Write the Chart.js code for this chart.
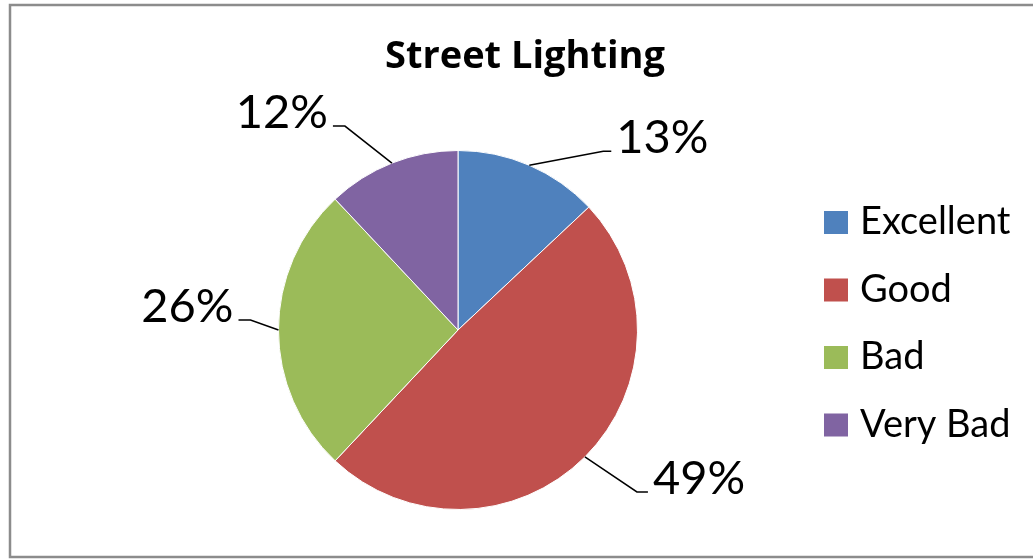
<!DOCTYPE html>
<html>
<head>
<meta charset="utf-8">
<script src="https://cdn.jsdelivr.net/npm/chart.js@4.4.1/dist/chart.umd.min.js"></script>
<style>
  html, body { margin: 0; padding: 0; background: #fff; }
  #wrap { position: relative; width: 1033px; height: 559px; }
</style>
</head>
<body>
<div id="wrap"><canvas id="c"></canvas></div>
<script>
  // Daten
  var categories = ['Excellent', 'Good', 'Bad', 'Very Bad'];
  var values = [13, 49, 26, 12];
  var colors = ['#4F81BD', '#C0504D', '#9BBB59', '#8064A2'];
  var titleText = 'Street Lighting';

  // Knick der Führungslinie relativ zum Randpunkt (px), Länge des waagrechten Stücks
  var leaderKnee = [[74, -14], [52, 35], [-28, -10], [-47, -37]];
  var leaderFlat = [8, 11, -12, -12];

  var FONT = 'Lato, "Open Sans", sans-serif';

  var frame = {
    id: 'frame',
    beforeDraw: function (chart) {
      var ctx = chart.ctx;
      ctx.save();
      ctx.fillStyle = '#fff';
      ctx.fillRect(0, 0, chart.width, chart.height);
      ctx.strokeStyle = '#8c8c8c';
      ctx.lineWidth = 2.5;
      ctx.strokeRect(10, 5, chart.width + 20, 552);
      // Titel
      ctx.fillStyle = '#000';
      ctx.font = 'bold 38px "Open Sans", sans-serif';
      ctx.textAlign = 'center';
      ctx.textBaseline = 'alphabetic';
      ctx.fillText(titleText, 525, 68);
      ctx.restore();
    }
  };

  var pieLabels = {
    id: 'pieLabels',
    afterDatasetsDraw: function (chart) {
      var ctx = chart.ctx;
      var meta = chart.getDatasetMeta(0);
      var total = values.reduce(function (a, b) { return a + b; }, 0);
      ctx.save();
      ctx.strokeStyle = '#000';
      ctx.lineWidth = 1.5;
      ctx.fillStyle = '#000';
      ctx.font = '47px ' + FONT;
      ctx.textBaseline = 'alphabetic';
      meta.data.forEach(function (arc, i) {
        var p = arc.getProps(['x', 'y', 'startAngle', 'endAngle', 'outerRadius'], true);
        var mid = (p.startAngle + p.endAngle) / 2;
        var ex = p.x + Math.cos(mid) * p.outerRadius;
        var ey = p.y + Math.sin(mid) * p.outerRadius;
        var kx = ex + leaderKnee[i][0], ky = ey + leaderKnee[i][1];
        var fx = kx + leaderFlat[i];
        ctx.beginPath();
        ctx.moveTo(ex, ey);
        ctx.lineTo(kx, ky);
        ctx.lineTo(fx, ky);
        ctx.stroke();
        var txt = Math.round(values[i] / total * 100) + '%';
        var right = leaderFlat[i] > 0;
        ctx.textAlign = right ? 'left' : 'right';
        ctx.fillText(txt, fx + (right ? 5 : -5), ky + 2);
      });
      ctx.restore();
    }
  };

  var legendRight = {
    id: 'legendRight',
    afterDraw: function (chart) {
      var ctx = chart.ctx;
      ctx.save();
      ctx.font = '38px ' + FONT;
      ctx.textAlign = 'left';
      ctx.textBaseline = 'alphabetic';
      categories.forEach(function (name, i) {
        var top = 211 + i * 67.5;
        ctx.fillStyle = colors[i];
        ctx.fillRect(824, top, 24, 23);
        ctx.fillStyle = '#000';
        ctx.fillText(name, 860, top + 23);
      });
      ctx.restore();
    }
  };

  new Chart(document.getElementById('c'), {
    type: 'pie',
    data: {
      labels: categories,
      datasets: [{ data: values, backgroundColor: colors, borderColor: '#fff', borderWidth: 1 }]
    },
    options: {
      responsive: true,
      maintainAspectRatio: false,
      animation: false,
      layout: { padding: { left: 278, right: 395, top: 150, bottom: 49 } },
      plugins: { legend: { display: false }, tooltip: { enabled: false }, title: { display: false } }
    },
    plugins: [frame, pieLabels, legendRight]
  });
</script>
</body>
</html>
